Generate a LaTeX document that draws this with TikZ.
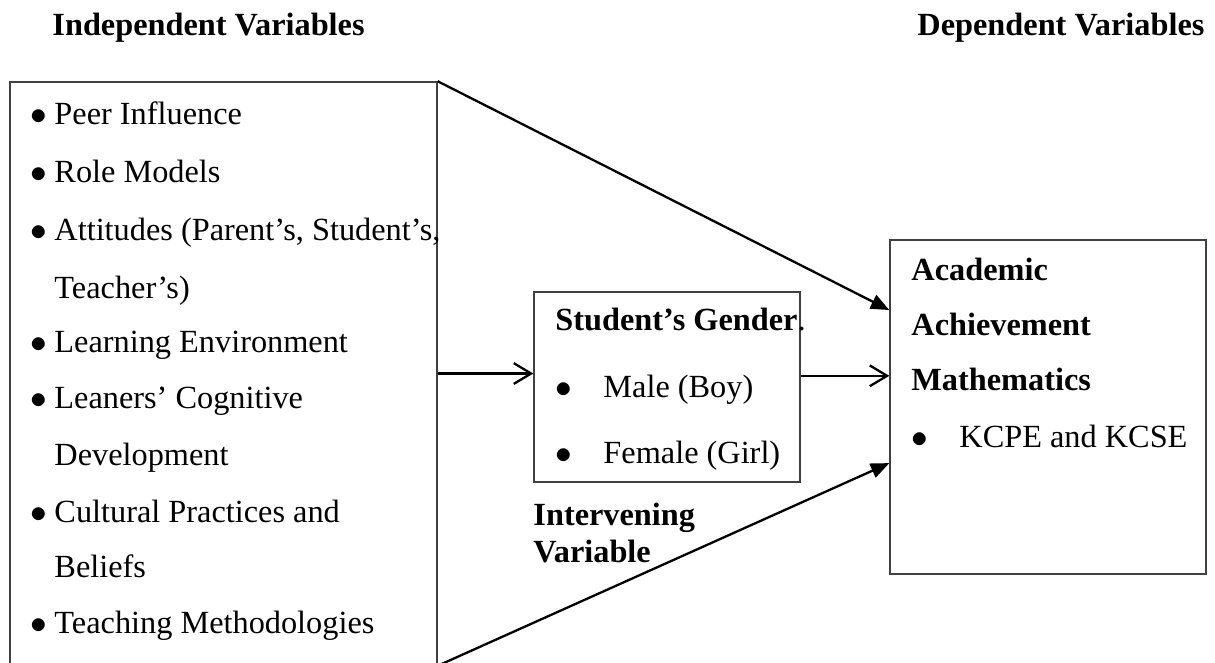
\documentclass[tikz,border=0pt]{standalone}
\usepackage{fontspec}
\setmainfont{Liberation Serif}
\usetikzlibrary{arrows.meta}
\tikzstyle{box} = [rectangle, draw=black!75, line width=0.6pt, inner sep=0pt]
\tikzstyle{txt} = [anchor=base west, inner sep=0pt, font=\fontsize{14}{16}\selectfont]
\tikzstyle{head} = [txt, font=\fontsize{14}{16}\selectfont\bfseries]
\tikzstyle{arrow} = [line width=1pt, -{Triangle[length=8pt,width=6.5pt]}]
\tikzstyle{openarrow} = [line width=1pt, -{Straight Barb[length=7.5pt,width=9pt]}]
% bullet hung to the left of the text
\newcommand{\blt}[1]{\llap{\makebox[#1][l]{$\bullet$}}}

\begin{document}
\begin{tikzpicture}[x=0.4332pt, y=-0.4332pt]
    \clip (0,0) rectangle (1215,662);

    % headings
    \node (indep-head) [head] at (52,35)  {Independent Variables};
    \node (dep-head)   [head] at (917,35) {Dependent Variables};

    % boxes
    \node (indep)  [box, minimum width=185pt, minimum height=252.6pt] at (223.5,373.5) {};
    \node (gender) [box, minimum width=115.2pt, minimum height=82.3pt] at (667,387) {};
    \node (dep)    [box, minimum width=136.9pt, minimum height=144.7pt] at (1048,407) {};

    % independent variables
    \node (peer)      [txt] at (54,124) {\blt{10.5pt}Peer Influence};
    \node (role)      [txt] at (54,182) {\blt{10.5pt}Role Models};
    \node (attitudes) [txt] at (54,240) {\blt{10.5pt}Attitudes (Parent's, Student's,};
    \node (teachers)  [txt] at (54,298) {Teacher's)};
    \node (learning)  [txt] at (54,352) {\blt{10.5pt}Learning Environment};
    \node (leaners)   [txt] at (54,408) {\blt{10.5pt}Leaners' Cognitive};
    \node (develop)   [txt] at (54,465) {Development};
    \node (cultural)  [txt] at (54,522) {\blt{10.5pt}Cultural Practices and};
    \node (beliefs)   [txt] at (54,577) {Beliefs};
    \node (teaching)  [txt] at (54,633) {\blt{10.5pt}Teaching Methodologies};

    % intervening variable
    \node (gender-title) [txt] at (555,330) {\textbf{Student's Gender}.};
    \node (male)         [txt] at (603,397) {\blt{20.8pt}Male (Boy)};
    \node (female)       [txt] at (603,463) {\blt{20.8pt}Female (Girl)};
    \node (interv-1)     [head] at (533,525) {Intervening};
    \node (interv-2)     [head] at (533,562) {Variable};

    % dependent variable
    \node (academic) [head] at (911,280) {Academic};
    \node (achieve)  [head] at (911,335) {Achievement};
    \node (maths)    [head] at (911,390) {Mathematics};
    \node (kcpe)     [txt]  at (959,447) {\blt{20.8pt}KCPE and KCSE};

    \draw [arrow]     (indep.north east) -- ([yshift=42pt]dep.west);
    \draw [arrow]     (indep.south east) -- ([yshift=-24.3pt]dep.west);
    \draw [openarrow] (indep.east) -- (indep.east -| gender.west);
    \draw [openarrow] ([yshift=-1pt]indep.east -| gender.east) -- ([yshift=-1pt]indep.east -| dep.west);
  \end{tikzpicture}
\end{document}
